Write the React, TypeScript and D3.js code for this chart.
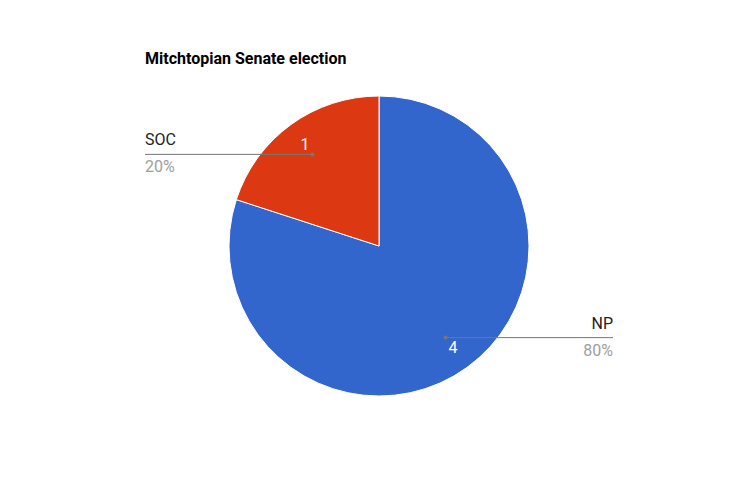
import React from "react";
import * as d3 from "d3";

const categories = ["NP", "SOC"];
const values = [4, 1];
const colors = ["#3366cc", "#dc3912"];
const title = "Mitchtopian Senate election";

const W = 755;
const H = 491;
const cx = 379;
const cy = 246;
const R = 150;

export default function App() {
  const total = d3.sum(values);
  const pie = d3
    .pie<number>()
    .sort(null)
    .value((d) => d);
  const arcs = pie(values);
  const arc = d3.arc<d3.PieArcDatum<number>>().innerRadius(0).outerRadius(R);
  const dotArc = d3.arc<d3.PieArcDatum<number>>().innerRadius(R * 0.755).outerRadius(R * 0.755);
  const labArc = d3.arc<d3.PieArcDatum<number>>().innerRadius(126).outerRadius(126);
  const font = "Roboto, Arial, sans-serif";

  return (
    <svg
      width={W}
      height={H}
      style={{ position: "absolute", left: 0, top: 0, background: "#fff" }}
      fontFamily={font}
    >
      <text x={145} y={64} fontSize={16} fontWeight="bold" fill="#000">
        {title}
      </text>
      <g transform={`translate(${cx},${cy})`}>
        {arcs.map((a, i) => (
          <path key={i} d={arc(a) || ""} fill={colors[i]} stroke="#fff" strokeWidth={1} />
        ))}
        {arcs.map((a, i) => {
          const [lx, ly] = labArc.centroid(a);
          return (
            <text
              key={"v" + i}
              x={lx}
              y={ly}
              textAnchor="middle"
              dominantBaseline="central"
              fontSize={16}
              fill="#fff"
            >
              {values[i]}
            </text>
          );
        })}
        {arcs.map((a, i) => {
          const [dx, dy] = dotArc.centroid(a);
          const left = dx < 0;
          const endX = left ? 145 - cx : 613 - cx;
          const pct = Math.round((values[i] / total) * 100) + "%";
          return (
            <g key={"l" + i}>
              <line x1={dx} y1={dy} x2={endX} y2={dy} stroke="#777" strokeWidth={1} />
              <circle cx={dx} cy={dy} r={2} fill="#777" />
              <text
                x={endX}
                y={dy - 9}
                textAnchor={left ? "start" : "end"}
                fontSize={16}
                fill="#222"
              >
                {categories[i]}
              </text>
              <text
                x={endX}
                y={dy + 18}
                textAnchor={left ? "start" : "end"}
                fontSize={16}
                fill="#9e9e9e"
              >
                {pct}
              </text>
            </g>
          );
        })}
      </g>
    </svg>
  );
}
